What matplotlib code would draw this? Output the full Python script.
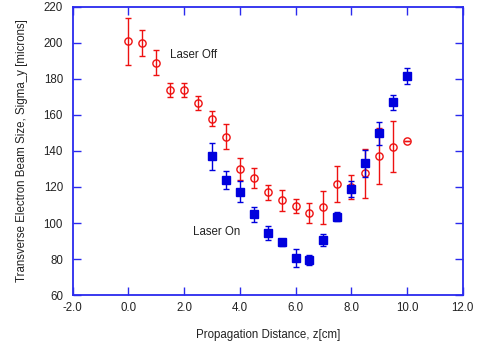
import matplotlib
matplotlib.use("Agg")
import matplotlib.pyplot as plt
import numpy as np

plt.rcParams['font.family'] = ['Liberation Sans', 'DejaVu Sans']

# Laser Off (red open circles)
off_z = [0, 0.5, 1.0, 1.5, 2.0, 2.5, 3.0, 3.5, 4.0, 4.5, 5.0, 5.5, 6.0, 6.5, 7.0, 7.5, 8.0, 8.5, 9.0, 9.5, 10.0]
off_sigma = [201, 200, 189, 174, 174, 166.5, 158, 148, 130, 125, 117, 112.5, 109.5, 105.5, 108.7, 121.7, 120, 127.6, 137.4, 142.4, 145.6]
off_err = [13, 7, 7, 4, 4, 4, 4, 7, 6, 5.5, 4, 6, 4, 5.5, 9, 10, 6.5, 13.5, 15.5, 14, 0]

# Laser On (blue filled squares)
on_z = [3.0, 3.5, 4.0, 4.5, 5.0, 5.5, 6.0, 6.5, 7.0, 7.5, 8.0, 8.5, 9.0, 9.5, 10.0]
on_sigma = [137.2, 123.9, 117.4, 104.8, 94.3, 89.3, 80.6, 79.4, 90.6, 103.5, 118.9, 133.1, 149.8, 167, 181.7]
on_err = [7.5, 5, 6, 4, 4, 2, 5, 3, 3.5, 2.5, 4.5, 7.5, 6.5, 4, 4.5]

x_ticks = [-2.0, 0.0, 2.0, 4.0, 6.0, 8.0, 10.0, 12.0]
y_ticks = [60, 80, 100, 120, 140, 160, 180, 200, 220]

fig = plt.figure(figsize=(4.79, 3.49), dpi=100)
ax = fig.add_axes([0.1518, 0.1547, 0.966 - 0.1518, 0.98 - 0.1547])

red = '#ee1111'
blue = '#0000dd'

ax.errorbar(on_z, on_sigma, yerr=on_err, fmt='s', color=blue, ecolor=blue,
            markersize=5.8, elinewidth=1.0, capsize=2.5, capthick=1.0, zorder=3)
ax.errorbar(off_z, off_sigma, yerr=off_err, fmt='o', color=red, ecolor=red,
            markerfacecolor='none', markeredgecolor=red, markeredgewidth=1.0,
            markersize=5.2, elinewidth=1.0, capsize=2.5, capthick=1.0, zorder=2)

ax.text(1.49, 193.3, 'Laser Off', fontsize=8.3, va='center', ha='left', color='#222222')
ax.text(2.33, 95.2, 'Laser On', fontsize=8.3, va='center', ha='left', color='#222222')

ax.set_xlim(-2, 12)
ax.set_ylim(60, 220)
ax.set_xticks(x_ticks)
ax.set_xticklabels([f'{v:.1f}' for v in x_ticks])
ax.set_yticks(y_ticks)
ax.set_yticklabels([str(v) for v in y_ticks])

for s in ax.spines.values():
    s.set_color('#2a2aee')
    s.set_linewidth(1.3)

ax.tick_params(axis='both', direction='in', length=5.5, width=1.0, color='#2a2aee',
               top=True, right=True, labelsize=8.3, labelcolor='#222222')
ax.tick_params(axis='x', pad=5)
ax.tick_params(axis='y', pad=7)

ax.set_xlabel('Propagation Distance, z[cm]', fontsize=8.3, color='#222222', labelpad=10.5)
ax.set_ylabel('Transverse Electron Beam Size, Sigma_y [microns]', fontsize=8.3, color='#222222', labelpad=11.5)

fig.savefig('out.png', dpi=100)
